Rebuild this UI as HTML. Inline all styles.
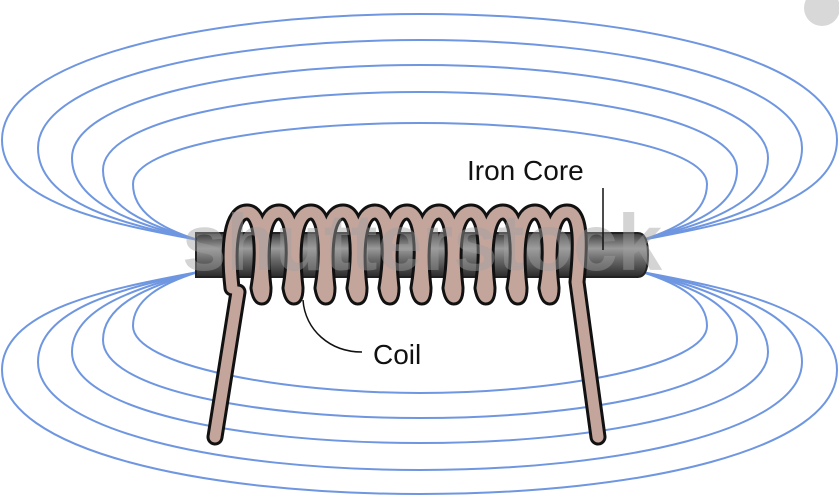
<!DOCTYPE html>
<html><head><style>html,body{margin:0;padding:0;background:#fff}svg{display:block}</style></head>
<body>
<svg width="839" height="496" viewBox="0 0 839 496" xmlns="http://www.w3.org/2000/svg">
<defs>
<linearGradient id="core" x1="0" y1="0" x2="0" y2="1">
<stop offset="0" stop-color="#3a3a3a"/><stop offset="0.35" stop-color="#9a9a9a"/><stop offset="0.6" stop-color="#6a6a6a"/><stop offset="1" stop-color="#2a2a2a"/>
</linearGradient>
</defs>
<circle cx="822" cy="8" r="18" fill="#d8d8d8"/>
<g fill="none" stroke="#6f96e0" stroke-width="2">
<path d="M198,240 C120,225 2,205 2,140 C2,60 200,14 420,14 C640,14 837,60 837,140 C837,205 720,225 642,240"/>
<path d="M198,240 C130,225 38,205 38,148 C38,80 220,40 420,40 C620,40 802,80 802,148 C802,205 710,225 642,240"/>
<path d="M198,240 C140,225 72,205 72,158 C72,100 240,65 420,65 C600,65 768,100 768,158 C768,205 700,225 642,240"/>
<path d="M198,240 C150,226 103,208 103,170 C103,120 260,92 420,92 C580,92 737,120 737,170 C737,208 690,226 642,240"/>
<path d="M198,240 C160,228 133,212 133,184 C133,145 280,123 420,123 C560,123 707,145 707,184 C707,212 680,228 642,240"/>
<path d="M198,272 C120,287 2,307 2,370 C2,450 200,494 420,494 C640,494 837,450 837,370 C837,307 720,287 642,272"/>
<path d="M198,272 C130,287 38,307 38,362 C38,430 220,470 420,470 C620,470 802,430 802,362 C802,307 710,287 642,272"/>
<path d="M198,272 C140,287 72,307 72,352 C72,410 240,443 420,443 C600,443 768,410 768,352 C768,307 700,287 642,272"/>
<path d="M198,272 C150,286 103,304 103,340 C103,390 260,418 420,418 C580,418 737,390 737,340 C737,304 690,286 642,272"/>
<path d="M198,272 C160,284 133,300 133,326 C133,365 280,393 420,393 C560,393 707,365 707,326 C707,300 680,284 642,272"/>
</g>
<path d="M196,233 L638,233 Q648,233 648,255 Q648,277 638,277 L196,277 Z" fill="url(#core)" stroke="#222" stroke-width="2"/>
<g fill="none" stroke-linecap="round" stroke-linejoin="round">
<path d="M215,437 L238,292 M232,288 c -5,-45 0,-76 15,-76 c 15,0 17,40 11,76 c 2,12 6,12 6,0 c -5,-45 0,-76 15,-76 c 15,0 17,40 11,76 c 2,12 6,12 6,0 c -5,-45 0,-76 15,-76 c 15,0 17,40 11,76 c 2,12 6,12 6,0 c -5,-45 0,-76 15,-76 c 15,0 17,40 11,76 c 2,12 6,12 6,0 c -5,-45 0,-76 15,-76 c 15,0 17,40 11,76 c 2,12 6,12 6,0 c -5,-45 0,-76 15,-76 c 15,0 17,40 11,76 c 2,12 6,12 6,0 c -5,-45 0,-76 15,-76 c 15,0 17,40 11,76 c 2,12 6,12 6,0 c -5,-45 0,-76 15,-76 c 15,0 17,40 11,76 c 2,12 6,12 6,0 c -5,-45 0,-76 15,-76 c 15,0 17,40 11,76 c 2,12 6,12 6,0 c -5,-45 0,-76 15,-76 c 15,0 17,40 11,76 c 2,12 6,12 6,0 c -5,-45 0,-76 15,-76 c 14,0 14,30 10,70 L598,437" stroke="#111" stroke-width="17"/>
<path d="M215,437 L238,292 M232,288 c -5,-45 0,-76 15,-76 c 15,0 17,40 11,76 c 2,12 6,12 6,0 c -5,-45 0,-76 15,-76 c 15,0 17,40 11,76 c 2,12 6,12 6,0 c -5,-45 0,-76 15,-76 c 15,0 17,40 11,76 c 2,12 6,12 6,0 c -5,-45 0,-76 15,-76 c 15,0 17,40 11,76 c 2,12 6,12 6,0 c -5,-45 0,-76 15,-76 c 15,0 17,40 11,76 c 2,12 6,12 6,0 c -5,-45 0,-76 15,-76 c 15,0 17,40 11,76 c 2,12 6,12 6,0 c -5,-45 0,-76 15,-76 c 15,0 17,40 11,76 c 2,12 6,12 6,0 c -5,-45 0,-76 15,-76 c 15,0 17,40 11,76 c 2,12 6,12 6,0 c -5,-45 0,-76 15,-76 c 15,0 17,40 11,76 c 2,12 6,12 6,0 c -5,-45 0,-76 15,-76 c 15,0 17,40 11,76 c 2,12 6,12 6,0 c -5,-45 0,-76 15,-76 c 14,0 14,30 10,70 L598,437" stroke="#c4a59c" stroke-width="11"/>
</g>
<text x="422" y="270" text-anchor="middle" font-family="Liberation Sans, sans-serif" font-weight="bold" font-size="80" fill="#a0a0a0" fill-opacity="0.45">shutterstock</text>
<line x1="603" y1="188" x2="603" y2="250" stroke="#111" stroke-width="1.5"/>
<text x="467" y="180" font-family="Liberation Sans, sans-serif" font-size="28" fill="#111">Iron Core</text>
<path d="M303,300 C305,330 330,352 362,352" fill="none" stroke="#111" stroke-width="1.5"/>
<text x="373" y="364" font-family="Liberation Sans, sans-serif" font-size="28" fill="#111">Coil</text>
</svg>
</body></html>
